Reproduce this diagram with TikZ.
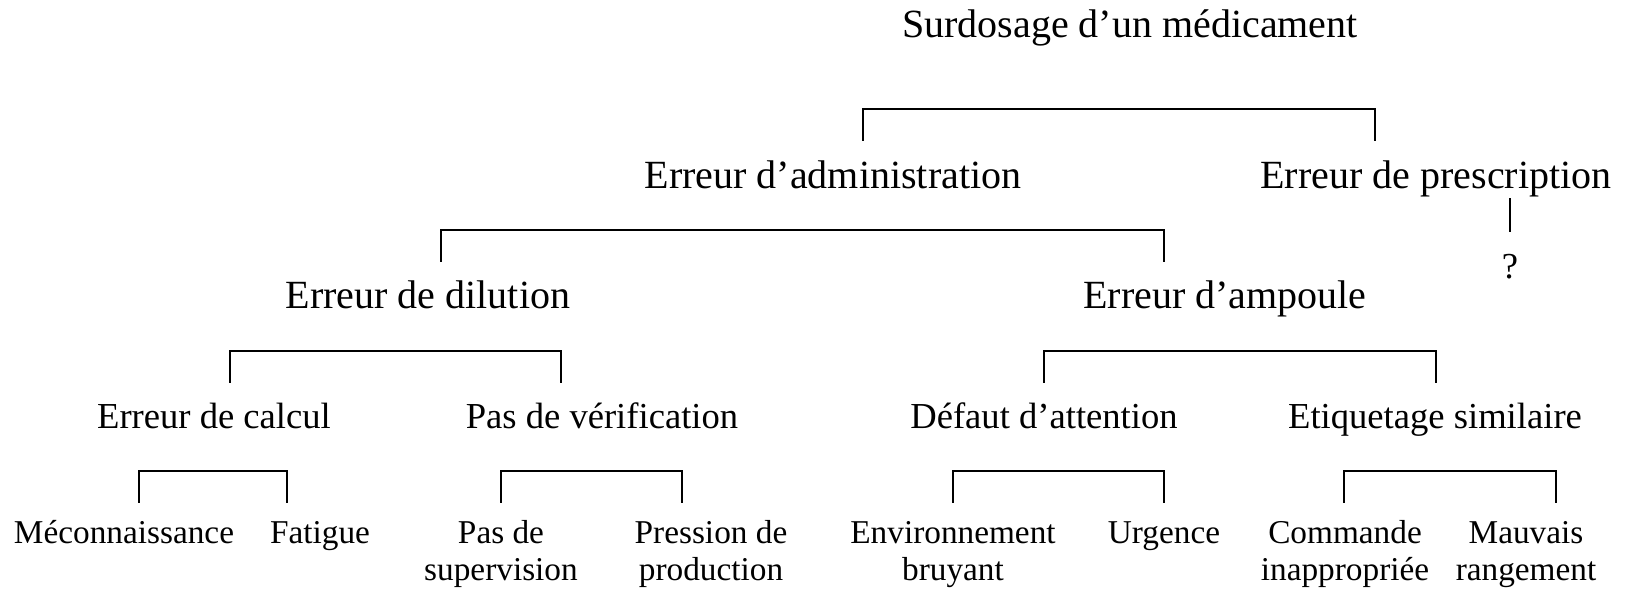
\documentclass[tikz,border=0pt]{standalone}
\usepackage{fontspec}
\setmainfont{Liberation Serif}
\begin{document}
\begin{tikzpicture}[x=1pt,y=-1pt,
  lvlA/.style={font=\fontsize{40}{44}\selectfont, anchor=base, inner sep=0pt},
  lvlB/.style={font=\fontsize{36.6}{40}\selectfont, anchor=base, inner sep=0pt},
  lvlC/.style={font=\fontsize{33.3}{37}\selectfont, anchor=base, inner sep=0pt, align=center},
  link/.style={line width=1.7pt, line cap=rect}]
\fill[white] (0,0) rectangle (1630,590);
\useasboundingbox (0,0) rectangle (1630,590);

% labels (two-line leaves are placed by the baseline of their last line)
\node[lvlA] (root)  at (1130,37)  {Surdosage d’un médicament};
\node[lvlA] (admin) at (833,188)  {Erreur d’administration};
\node[lvlA] (presc) at (1436,188) {Erreur de prescription};
\node[lvlB] (unk)   at (1510,278) {?};
\node[lvlA] (dil)   at (428,308)  {Erreur de dilution};
\node[lvlA] (amp)   at (1225,308) {Erreur d’ampoule};
\node[lvlB] (calc)  at (214,428)  {Erreur de calcul};
\node[lvlB] (verif) at (602,428)  {Pas de vérification};
\node[lvlB] (att)   at (1044,428) {Défaut d’attention};
\node[lvlB] (etiq)  at (1435,428) {Etiquetage similaire};
\node[lvlC] (mec)   at (124,543)  {Méconnaissance};
\node[lvlC] (fat)   at (320,543)  {Fatigue};
\node[lvlC] (sup)   at (501,580)  {Pas de\\supervision};
\node[lvlC] (prod)  at (711,580)  {Pression de\\production};
\node[lvlC] (env)   at (953,580)  {Environnement\\bruyant};
\node[lvlC] (urg)   at (1164,543) {Urgence};
\node[lvlC] (cmd)   at (1345,580) {Commande\\inappropriée};
\node[lvlC] (rang)  at (1526,580) {Mauvais\\rangement};

% bracket feet
\coordinate (r1) at (863,140);  \coordinate (r2) at (1375,140);
\coordinate (a1) at (441,261);  \coordinate (a2) at (1164,261);
\coordinate (d1) at (230,382);  \coordinate (d2) at (561,382);
\coordinate (m1) at (1044,382); \coordinate (m2) at (1436,382);
\coordinate (c1) at (139,502);  \coordinate (c2) at (287,502);
\coordinate (v1) at (501,502);  \coordinate (v2) at (682,502);
\coordinate (t1) at (953,502);  \coordinate (t2) at (1164,502);
\coordinate (e1) at (1344,502); \coordinate (e2) at (1556,502);
\coordinate (p1) at (1510,199); \coordinate (p2) at (1510,231);

% brackets
\draw[link] (r1) -- ++(0,-31) -| (r2);
\draw[link] (a1) -- ++(0,-31) -| (a2);
\draw[link] (d1) -- ++(0,-31) -| (d2);
\draw[link] (m1) -- ++(0,-31) -| (m2);
\draw[link] (c1) -- ++(0,-31) -| (c2);
\draw[link] (v1) -- ++(0,-31) -| (v2);
\draw[link] (t1) -- ++(0,-31) -| (t2);
\draw[link] (e1) -- ++(0,-31) -| (e2);
\draw[link] (p1) -- (p2);
\end{tikzpicture}
\end{document}
